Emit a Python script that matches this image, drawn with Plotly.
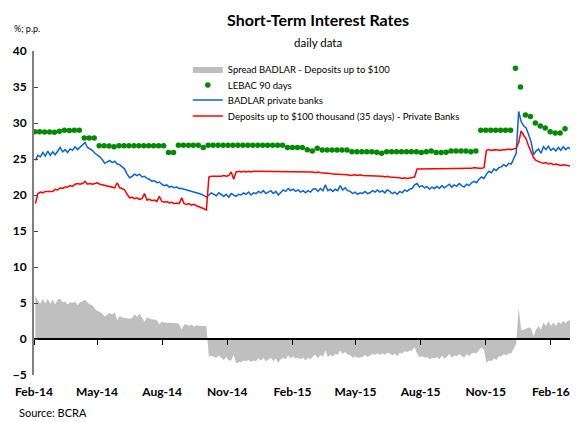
import pandas as pd
import numpy as np
import plotly.graph_objects as go

# ---------------- data ----------------
# daily-ish series sampled every 3.5 days starting 2014-02-03
line_start = "2014-02-03"

badlar = [
    24.8, 25.5, 25.3, 25.9, 25.4, 26.1, 25.5, 26.0, 25.6, 26.2,
    26.6, 26.0, 26.3, 25.9, 26.4, 26.2, 26.7, 26.3, 26.6, 26.9,
    27.3, 26.6, 26.4, 26.2, 25.8, 25.6, 25.3, 24.9, 24.4, 24.6,
    24.8, 24.5, 24.7, 24.3, 24.2, 23.9, 23.6, 22.9, 22.4, 22.6,
    22.9, 22.7, 22.9, 22.5, 22.6, 22.3, 22.2, 21.9, 22.0, 21.7,
    21.8, 21.5, 21.3, 21.4, 21.1, 21.2, 21.0, 21.1, 20.9, 20.9,
    20.8, 20.7, 20.6, 20.6, 20.4, 20.4, 20.2, 20.1, 19.9, 19.7,
    20.0, 20.3, 20.1, 19.9, 20.3, 20.0, 19.8, 20.1, 19.7, 20.2,
    20.0, 19.8, 20.1, 20.0, 20.3, 20.1, 20.4, 20.0, 20.3, 20.2,
    20.5, 20.3, 20.6, 20.2, 20.4, 20.6, 20.2, 20.5, 20.0, 20.4,
    20.7, 20.5, 20.9, 20.6, 20.8, 20.5, 20.7, 20.4, 20.6, 20.3,
    20.6, 20.4, 20.8, 20.9, 20.5, 20.9, 20.6, 21.4, 20.6, 20.8,
    20.5, 20.8, 20.6, 21.3, 20.7, 21.0, 20.6, 20.5, 20.2, 20.4,
    20.1, 20.3, 20.2, 20.5, 20.2, 20.3, 20.6, 20.4, 20.7, 20.4,
    20.6, 20.3, 20.7, 20.5, 20.2, 20.4, 20.1, 20.5, 20.3, 20.7,
    20.5, 20.8, 20.9, 21.4, 21.6, 21.1, 21.3, 21.0, 21.2, 20.8,
    21.1, 20.9, 21.2, 20.9, 21.3, 21.0, 21.2, 21.5, 21.1, 21.4,
    21.2, 21.6, 21.3, 21.1, 21.5, 21.3, 21.7, 21.9, 21.7, 22.2,
    22.5, 22.3, 22.9, 23.3, 23.1, 23.6, 23.4, 23.8, 23.9, 24.2,
    24.0, 24.4, 24.3, 25.0, 25.8, 31.6, 30.2, 29.6, 29.3, 28.4,
    27.4, 25.6, 26.1, 26.4, 25.8, 26.7, 26.3, 26.8, 26.2, 26.5,
    26.1, 26.6, 26.2, 26.7, 26.3, 26.6, 26.4,
]

deposits = [
    18.8, 20.2, 20.4, 20.3, 20.5, 20.5, 20.6, 20.5, 20.8, 20.7,
    21.0, 20.9, 21.1, 21.1, 21.3, 21.2, 21.5, 21.6, 21.5, 21.6,
    21.9, 21.5, 21.6, 21.5, 21.6, 21.7, 21.5, 21.4, 21.3, 21.2,
    21.2, 21.1, 21.0, 21.7, 21.0, 20.9, 20.7, 20.1, 19.6, 19.7,
    19.5, 19.6, 19.4, 19.5, 20.2, 19.3, 19.4, 19.2, 19.3, 19.1,
    19.8, 19.1, 19.0, 19.1, 18.9, 19.0, 18.8, 18.9, 18.8, 19.6,
    18.8, 18.7, 18.8, 18.6, 18.7, 18.5, 18.4, 18.3, 18.1, 17.9,
    22.5, 22.6, 22.6, 22.5, 22.6, 22.6, 22.7, 22.6, 22.7, 23.2,
    22.2, 23.2, 23.3, 23.2, 23.3, 23.2, 23.3, 23.2, 23.3, 23.3,
    23.2, 23.3, 23.2, 23.3, 23.2, 23.2, 23.3, 23.2, 23.3, 23.2,
    23.3, 23.3, 23.2, 23.3, 23.2, 23.2, 23.3, 23.2, 23.2, 23.3,
    23.2, 23.2, 23.2, 23.1, 23.2, 23.1, 23.1, 23.0, 23.1, 23.0,
    22.9, 22.9, 22.8, 22.9, 22.8, 22.8, 22.8, 22.7, 22.8, 22.8,
    22.7, 22.8, 22.7, 22.7, 22.7, 22.6, 22.7, 22.6, 22.7, 22.6,
    22.6, 22.5, 22.6, 22.5, 22.5, 22.4, 22.5, 22.4, 22.3, 22.4,
    22.3, 22.4, 22.5, 22.5, 23.6, 23.6, 23.7, 23.6, 23.7, 23.6,
    23.7, 23.6, 23.7, 23.7, 23.6, 23.7, 23.7, 23.6, 23.7, 23.7,
    23.6, 23.7, 23.7, 23.7, 23.6, 23.7, 23.7, 23.8, 23.7, 23.7,
    23.7, 23.8, 26.2, 26.3, 26.2, 26.3, 26.3, 26.2, 26.3, 26.3,
    26.3, 26.4, 26.3, 26.4, 26.5, 27.3, 28.9, 28.3, 27.8, 26.8,
    25.9, 25.2, 24.8, 24.6, 24.5, 24.4, 24.5, 24.3, 24.4, 24.2,
    24.3, 24.2, 24.1, 24.2, 24.1, 24.0, 24.0,
]

# weekly LEBAC 90-day auction rate
lebac_start = "2014-02-02"
lebac = [
    28.8, 28.8, 28.75, 28.75, 28.7, 28.85, 29.0, 28.95, 29.0, 29.0,
    27.9, 27.9, 27.9,
    26.85, 26.85, 26.8, 26.7, 26.85, 26.85, 26.85, 26.85, 26.85, 26.85,
    26.85, 26.85, 26.85, 26.85,
    25.9, 25.9,
    26.9, 26.9, 26.9, 26.9, 26.9,
    26.6,
    26.9, 26.9, 26.9, 26.9, 26.9, 26.9, 26.9, 26.9, 26.9, 26.9,
    26.9, 26.9, 26.9, 26.9, 26.9, 26.9,
    26.6, 26.6, 26.6, 26.6,
    26.3, 26.1, 26.5, 26.25, 26.25, 26.25, 26.25, 26.25, 26.25,
    26.0, 26.0, 26.0, 26.0, 26.0, 25.95, 25.8,
    26.0, 26.0, 26.0, 26.0, 26.0, 26.0, 26.0,
    25.9, 26.0, 26.1, 25.9, 25.9, 25.95, 26.1, 26.1, 26.1, 26.1, 26.0, 26.1,
    29.0, 29.0, 29.0, 29.0, 29.0, 29.0, 29.0,
    37.6, 35.0, 31.1, 30.9, 30.0, 29.6, 29.3, 28.8, 28.6, 28.6, 29.2,
]

line_dates = pd.date_range(line_start, periods=len(badlar), freq="84h")
lebac_dates = pd.date_range(lebac_start, periods=len(lebac), freq="7D")
spread = np.round(np.array(badlar) - np.array(deposits), 2)

x_range = ["2014-02-01", "2016-02-28"]
tick_start = "2014-02-01"

names = [
    "Spread BADLAR - Deposits up to $100",
    "LEBAC 90 days",
    "BADLAR private banks",
    "Deposits up to $100 thousand (35 days) - Private Banks",
]

# ---------------- figure ----------------
# the page body has an 8px default margin; the figure is sized to sit
# inside the visible part of the window
FONT = "Lato, 'Open Sans', 'DejaVu Sans', sans-serif"
fig = go.Figure()

fig.add_trace(go.Scatter(
    x=line_dates, y=spread, name=names[0], mode="lines", xaxis="x2",
    fill="tozeroy", fillcolor="#BFBFBF", line=dict(width=0, color="#BFBFBF"),
    legend="legend",
))
fig.add_trace(go.Scatter(
    x=lebac_dates, y=lebac, name=names[1], mode="markers",
    marker=dict(color="#008A00", size=5.5), legend="legend2",
))
fig.add_trace(go.Scatter(
    x=line_dates, y=badlar, name=names[2], mode="lines",
    line=dict(color="#0A64D2", width=1.5), legend="legend3",
))
fig.add_trace(go.Scatter(
    x=line_dates, y=deposits, name=names[3], mode="lines",
    line=dict(color="#FF0000", width=1.5), legend="legend4",
))

zero_pos = 5 / 45
leg_x = 0.287
leg_font = dict(size=9.5, family=FONT, color="black")


def leg(y):
    return dict(x=leg_x, y=y, xanchor="left", yanchor="middle",
                bgcolor="rgba(0,0,0,0)", font=leg_font)


fig.update_layout(
    width=562, height=414, autosize=False,
    margin=dict(l=26, r=0, t=43, b=47),
    paper_bgcolor="white", plot_bgcolor="white",
    font=dict(family=FONT, color="black", size=11),
    showlegend=True,
    legend=leg(0.9444),
    legend2=leg(0.8951),
    legend3=leg(0.8488),
    legend4=leg(0.7994),
    xaxis=dict(
        type="date", range=x_range, anchor="y", side="bottom",
        showline=False, ticks="outside", ticklen=6, tickcolor="rgba(0,0,0,0)",
        tick0=tick_start, dtick="M3", tickformat="%b-%y",
        tickfont=dict(size=12, family=FONT, weight="bold", color="black"),
        showgrid=False, zeroline=False,
    ),
    xaxis2=dict(
        type="date", range=x_range, overlaying="x", anchor="free", position=zero_pos,
        showline=True, linecolor="black", linewidth=1.5,
        ticks="outside", ticklen=5, tickcolor="black", tickwidth=1,
        tick0=tick_start, dtick="M3", showticklabels=False,
        showgrid=False, zeroline=False,
    ),
    yaxis=dict(
        range=[-5, 40], tick0=0, dtick=5,
        showline=True, linecolor="#808080", linewidth=2,
        ticks="inside", ticklen=4, tickcolor="#444444",
        tickfont=dict(size=12, family=FONT, weight="bold", color="black"),
        ticklabelstandoff=3,
        showgrid=False, zeroline=False,
    ),
    annotations=[
        dict(text="<b>Short-Term Interest Rates</b>", xref="paper", yref="paper",
             x=0.530, y=1.0957, xanchor="center", yanchor="middle",
             showarrow=False, font=dict(size=16, family=FONT)),
        dict(text="daily data", xref="paper", yref="paper",
             x=0.530, y=1.0247, xanchor="center", yanchor="middle",
             showarrow=False, font=dict(size=11.5, family=FONT)),
        dict(text="%; p.p.", xref="paper", yref="paper",
             x=-0.041, y=1.068, xanchor="left", yanchor="middle",
             showarrow=False, font=dict(size=9, family=FONT)),
        dict(text="Source: BCRA", xref="paper", yref="paper",
             x=-0.0317, y=-0.115, xanchor="left", yanchor="middle",
             showarrow=False, font=dict(size=11, family=FONT)),
    ],
)

fig.write_html("out.html")
